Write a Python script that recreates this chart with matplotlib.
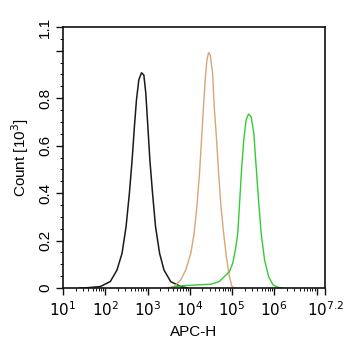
import numpy as np
import matplotlib
matplotlib.use("Agg")
import matplotlib.pyplot as plt
from matplotlib.ticker import FixedLocator, FixedFormatter, LogLocator, NullFormatter

plt.rcParams['font.family'] = ['Liberation Sans Narrow', 'Liberation Sans', 'DejaVu Sans']
plt.rcParams['mathtext.fontset'] = 'custom'
plt.rcParams['mathtext.rm'] = 'Liberation Sans Narrow'
plt.rcParams['mathtext.it'] = 'Liberation Sans Narrow'

# 各ヒストグラム（横軸は 10 の指数）
black_exp = [1.4, 1.56, 1.881, 2.119, 2.278, 2.397, 2.492, 2.571, 2.635, 2.690, 2.738, 2.794,
             2.857, 2.913, 2.96, 3.008, 3.056, 3.119, 3.19, 3.286, 3.389, 3.548, 3.786, 3.95]
black_cnt = [0.0, 0.001, 0.006, 0.027, 0.076, 0.146, 0.258, 0.399, 0.539, 0.680, 0.792, 0.877,
             0.907, 0.898, 0.820, 0.680, 0.539, 0.399, 0.258, 0.146, 0.076, 0.027, 0.006, 0.0]

orange_exp = [3.45, 3.627, 3.786, 3.905, 4.024, 4.103, 4.167, 4.23, 4.278, 4.325, 4.365, 4.405,
              4.445, 4.484, 4.54, 4.579, 4.635, 4.683, 4.738, 4.802, 4.865, 4.937, 5.0, 5.05]
orange_cnt = [0.0, 0.006, 0.034, 0.076, 0.146, 0.230, 0.343, 0.483, 0.624, 0.764, 0.877, 0.961,
              0.992, 0.982, 0.905, 0.764, 0.624, 0.483, 0.343, 0.230, 0.132, 0.048, 0.006, 0.0]

green_exp = [3.55, 3.627, 3.865, 4.183, 4.5, 4.698, 4.817, 4.937, 5.016, 5.079, 5.135, 5.183, 5.23,
             5.278, 5.333, 5.389, 5.452, 5.516, 5.571, 5.627, 5.69, 5.77, 5.865, 5.97, 6.09, 6.2]
green_cnt = [0.0, 0.005, 0.010, 0.013, 0.016, 0.027, 0.048, 0.069, 0.104, 0.160, 0.230, 0.371, 0.511,
             0.624, 0.708, 0.733, 0.722, 0.652, 0.511, 0.371, 0.230, 0.118, 0.048, 0.013, 0.003, 0.0]

# 目盛り
x_tick_exp = [1, 2, 3, 4, 5, 6, 7, 7.2]
x_tick_labels = ['$10^{1}$', '$10^{2}$', '$10^{3}$', '$10^{4}$', '$10^{5}$', '$10^{6}$', '', '$10^{7.2}$']
y_ticks = [0, 0.2, 0.4, 0.6, 0.8, 1.0, 1.1]
y_tick_labels = ['0', '0.2', '0.4', '0.6', '0.8', '', '1.1']

fig = plt.figure(figsize=(3.45, 3.5), dpi=100)
ax = fig.add_axes([63 / 345, 62 / 350, 262 / 345, 261 / 350])

ax.plot(10 ** np.array(black_exp), black_cnt, color='#1a1a1a', lw=1.1)
ax.plot(10 ** np.array(orange_exp), orange_cnt, color='#d9a577', lw=1.0)
ax.plot(10 ** np.array(green_exp), green_cnt, color='#33cc33', lw=1.0)

ax.set_xscale('log')
ax.set_xlim(10 ** 1, 10 ** 7.2)
ax.set_ylim(0, 1.1)

ax.xaxis.set_major_locator(FixedLocator([10 ** e for e in x_tick_exp]))
ax.xaxis.set_major_formatter(FixedFormatter(x_tick_labels))
ax.xaxis.set_minor_locator(LogLocator(base=10, subs=np.arange(2, 10), numticks=20))
ax.xaxis.set_minor_formatter(NullFormatter())

ax.yaxis.set_major_locator(FixedLocator(y_ticks))
ax.yaxis.set_major_formatter(FixedFormatter(y_tick_labels))
ax.yaxis.set_minor_locator(FixedLocator(np.arange(0, 1.11, 0.05)))

ax.tick_params(which='major', direction='out', length=5, width=1.0, labelsize=11, color='#111111')
ax.tick_params(which='minor', direction='out', length=2.5, width=0.7, color='#111111')
ax.tick_params(axis='x', pad=4)
ax.tick_params(axis='y', pad=3)
for lab in ax.get_yticklabels():
    lab.set_rotation(90)
    lab.set_va('center')

for s in ax.spines.values():
    s.set_linewidth(1.2)
    s.set_color('#111111')

ax.set_xlabel('APC-H', fontsize=11, labelpad=4)
ax.set_ylabel('Count [10$^{3}$]', fontsize=11, labelpad=5)

fig.savefig('out.png', dpi=100)
